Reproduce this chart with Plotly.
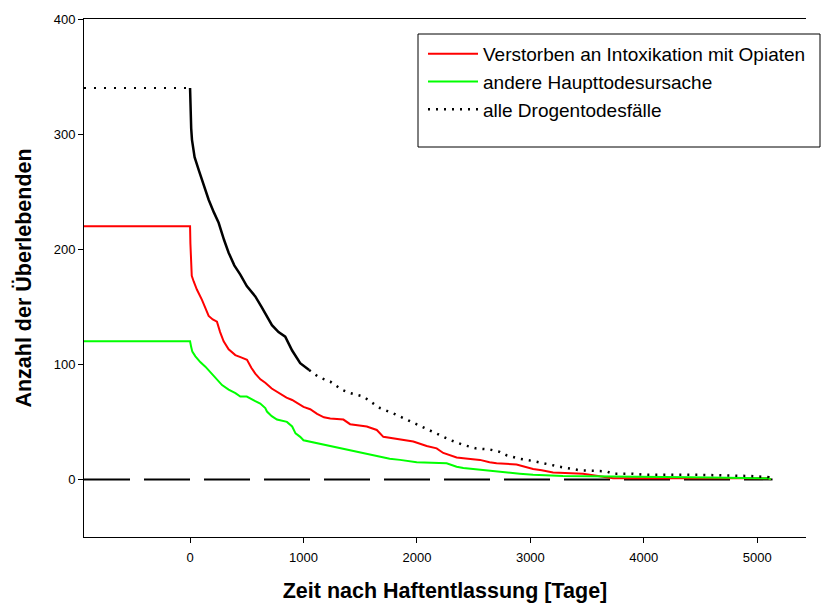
import plotly.graph_objects as go

# ---------------- data ----------------
X_MIN = -935   # left end of the x axis
X_MAX = 5430

red_t = [0, 3, 8, 15, 32, 60, 105, 135, 164, 200, 237, 265, 296, 340, 399, 450, 502,
         540, 575, 620, 663, 720, 780, 850, 900, 956, 1000, 1059, 1120, 1180, 1236, 1352,
         1411, 1558, 1646, 1704, 1822, 1968, 2086, 2174, 2232, 2350, 2450, 2556, 2640,
         2702, 2878, 2950, 3024, 3100, 3200, 3464, 3600, 3729, 4400, 5100, 5120]
red_n = [220, 205, 190, 177, 172, 165, 156, 149, 142, 139, 137, 128, 120, 113, 108, 106, 104,
         97, 92, 87, 84, 79, 75, 71, 69, 66, 63, 61, 57, 54, 53, 52,
         48, 46, 43, 37, 35, 33, 29, 27, 23, 19, 18, 17, 15,
         14, 13, 11, 9, 8, 6, 5, 3, 1, 1, 1, 0]

green_t = [0, 10, 20, 47, 90, 135, 180, 223, 250, 282, 340, 400, 443, 500, 575, 619, 663,
           678, 720, 766, 854, 900, 930, 971, 1000, 1146, 1250, 1322, 1420, 1528, 1675,
           1760, 1851, 1998, 2262, 2350, 2409, 2600, 2673, 2790, 2906, 3024, 3288, 4402,
           4961, 5100, 5120]
green_n = [120, 115, 111, 107, 102, 98, 93, 89, 86, 82, 78, 75, 72, 72, 68, 66, 62,
           59, 55, 52, 50, 46, 40, 37, 34, 31, 29, 27, 25, 23, 20,
           18, 17, 15, 14, 11, 10, 8, 7, 6, 5, 4, 3, 2,
           1, 1, 0]

all_t = [0, 3, 10, 17, 40, 76, 120, 164, 210, 252, 300, 340, 390, 443, 500, 575, 630,
         692, 722, 780, 839, 900, 971, 1050, 1132, 1236, 1338, 1411, 1528, 1600, 1675,
         1800, 1910, 2056, 2174, 2300, 2409, 2520, 2643, 2729, 2790, 2906, 3024, 3113,
         3142, 3260, 3435, 3671, 3729, 3905, 4023, 4489, 4932, 5050, 5100, 5120]
all_n = [340, 320, 305, 295, 280, 269, 256, 243, 232, 223, 208, 197, 186, 178, 168, 159, 150,
         140, 134, 128, 124, 112, 101, 95, 89, 85, 78, 75, 72, 67, 62,
         57, 52, 45, 40, 34, 30, 27, 26, 24, 21, 18, 16, 14,
         13, 11, 8, 7, 5, 5, 4, 4, 3, 2, 2, 0]

baseline_end = 5135

names = ["Verstorben an Intoxikation mit Opiaten",
         "andere Haupttodesursache",
         "alle Drogentodesfälle"]

x_ticks = [0, 1000, 2000, 3000, 4000, 5000]
y_ticks = [0, 100, 200, 300, 400]

# ---------------- figure ----------------
fig = go.Figure()

# zero reference line (long dashes)
fig.add_trace(go.Scatter(x=[X_MIN, baseline_end], y=[0, 0], mode="lines",
                         line=dict(color="black", width=2, dash="46px,14px"),
                         showlegend=False, hoverinfo="skip"))

fig.add_trace(go.Scatter(x=[X_MIN] + red_t, y=[red_n[0]] + red_n, mode="lines",
                         line=dict(color="#ff0000", width=2), name=names[0]))
fig.add_trace(go.Scatter(x=[X_MIN] + green_t, y=[green_n[0]] + green_n, mode="lines",
                         line=dict(color="#00ff00", width=2), name=names[1]))

# all drug deaths: dotted, dense early part renders as a continuous line
split = next(i for i, t in enumerate(all_t) if t >= 1050)
fig.add_trace(go.Scatter(x=[X_MIN, all_t[0]], y=[all_n[0], all_n[0]], mode="lines",
                         line=dict(color="black", width=2, dash="2px,8px"),
                         showlegend=False, hoverinfo="skip"))
fig.add_trace(go.Scatter(x=all_t[:split + 1], y=all_n[:split + 1], mode="lines",
                         line=dict(color="black", width=2.5),
                         showlegend=False))
fig.add_trace(go.Scatter(x=all_t[split:], y=all_n[split:], mode="lines",
                         line=dict(color="black", width=2.5, dash="2px,6px"),
                         name=names[2]))

W, H = 821, 603
ml, mr, mt, mb = 84, 15, 19, 66
pw, ph = W - ml - mr, H - mt - mb

def px_x(p):
    return (p - ml) / pw

def px_y(p):
    return (H - mb - p) / ph

fig.add_shape(type="rect", xref="paper", yref="paper",
              x0=px_x(418), x1=px_x(820), y0=px_y(147), y1=px_y(34),
              line=dict(color="black", width=1), fillcolor="rgba(0,0,0,0)")

fig.update_layout(
    width=W, height=H,
    margin=dict(l=ml, r=mr, t=mt, b=mb, autoexpand=False),
    plot_bgcolor="white", paper_bgcolor="white",
    font=dict(family="Arial, Liberation Sans, sans-serif", color="black"),
    legend=dict(x=px_x(423), y=px_y(35), xanchor="left", yanchor="top",
                bgcolor="rgba(0,0,0,0)", borderwidth=0,
                font=dict(size=19, color="black"), itemwidth=50,
                tracegroupgap=0),
    showlegend=True,
)
fig.update_xaxes(range=[X_MIN, X_MAX], tickvals=x_ticks, ticks="outside", ticklen=5,
                 tickcolor="black", showline=True, linecolor="black", linewidth=1,
                 mirror=True, showgrid=False, zeroline=False, ticklabelstandoff=3,
                 tickfont=dict(size=13, color="black"),
                 title=dict(text="Zeit nach Haftentlassung [Tage]",
                            font=dict(size=21.5, weight="bold"), standoff=24))
fig.update_yaxes(range=[-50, 400], tickvals=y_ticks, ticks="outside", ticklen=5,
                 tickcolor="black", showline=True, linecolor="black", linewidth=1,
                 showgrid=False, zeroline=False,
                 tickfont=dict(size=13, color="black"),
                 title=dict(text="Anzahl der Überlebenden",
                            font=dict(size=21.5, weight="bold"), standoff=16))

fig.write_html("out.html")
